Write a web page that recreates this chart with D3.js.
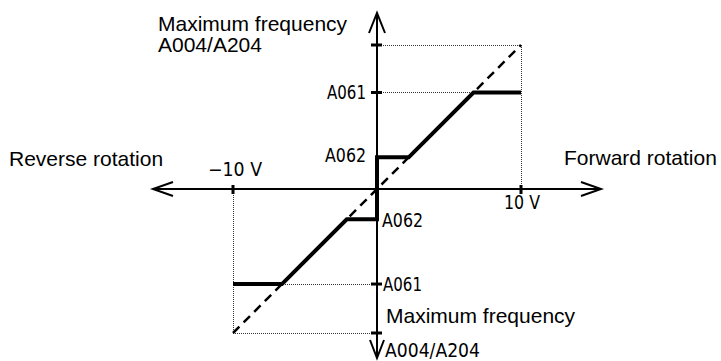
<!DOCTYPE html>
<html>
<head>
<meta charset="utf-8">
<script src="https://cdn.jsdelivr.net/npm/d3@7"></script>
<style>
  body { margin: 0; background: #fff; }
</style>
</head>
<body>
<div id="main"></div>
<script>
// analog input (V) -> output frequency (% of max frequency)
const maxVolt = 10
const maxFreq = 100
// forward side: A062 lower limit, A061 upper limit
const fwdA062 = 22
const fwdA061 = 67
// reverse side
const revA062 = -21
const revA061 = -66
// characteristic line
const curveVolt = [-10, -6.6, -2.1, 0, 0, 2.2, 6.7, 10]
const curveFreq = [-66, -66, -21, -21, 22, 22, 67, 67]
// ideal line (dashed)
const idealVolt = [-10, 10]
const idealFreq = [-100, 100]
const xTickVals = [-10, 10]
const xTickLabels = ["\u221210 V", "10 V"]
const yTickVals = [100, 67, -66, -100]

const W = 721, H = 361
const svg = d3.select("#main").append("svg").attr("width", W).attr("height", H)
  .style("font-family", "'Liberation Sans', Arial, sans-serif")

const x = d3.scaleLinear().domain([-maxVolt, maxVolt]).range([233, 521])
const y = d3.scaleLinear().domain([-maxFreq, maxFreq]).range([333, 45])
const x0 = x(0), y0 = y(0)

const line = d3.line().x(d => x(d[0])).y(d => y(d[1]))

// dotted guides
const guides = [
  [[0, maxFreq], [maxVolt, maxFreq]],
  [[maxVolt, maxFreq], [maxVolt, 0]],
  [[0, fwdA061], [maxVolt, fwdA061]],
  [[-maxVolt, 0], [-maxVolt, -maxFreq]],
  [[-maxVolt, -maxFreq], [0, -maxFreq]],
  [[-maxVolt, revA061], [0, revA061]]
]
svg.append("g").selectAll("path").data(guides).enter().append("path")
  .attr("d", line)
  .attr("fill", "none")
  .attr("stroke", "#333")
  .attr("stroke-width", 1)
  .attr("stroke-dasharray", "1,1")
  .attr("shape-rendering", "crispEdges")

// dashed ideal line
svg.append("path")
  .datum(idealVolt.map((v, i) => [v, idealFreq[i]]))
  .attr("d", line)
  .attr("fill", "none")
  .attr("stroke", "#000")
  .attr("stroke-width", 2.5)
  .attr("stroke-dasharray", "9,6")

// axes with open arrowheads
const ax = svg.append("g").attr("stroke", "#000").attr("stroke-width", 2).attr("fill", "none")
ax.append("line").attr("x1", 153).attr("x2", 601).attr("y1", y0).attr("y2", y0)
ax.append("line").attr("x1", x0).attr("x2", x0).attr("y1", 13).attr("y2", 358)
ax.append("path").attr("d", `M${153 + 20},${y0 - 7}L153,${y0}L${153 + 20},${y0 + 7}`)
ax.append("path").attr("d", `M${601 - 20},${y0 - 7}L601,${y0}L${601 - 20},${y0 + 7}`)
ax.append("path").attr("d", `M${x0 - 8},33L${x0},13L${x0 + 8},33`)
ax.append("path").attr("d", `M${x0 - 7},340L${x0},358L${x0 + 7},340`)

// characteristic
svg.append("path")
  .datum(curveVolt.map((v, i) => [v, curveFreq[i]]))
  .attr("d", line)
  .attr("fill", "none")
  .attr("stroke", "#000")
  .attr("stroke-width", 4)

// ticks
svg.append("g").selectAll("line").data(yTickVals).enter().append("line")
  .attr("x1", x0 - 6).attr("x2", x0 + 5)
  .attr("y1", d => y(d)).attr("y2", d => y(d))
  .attr("stroke", "#000").attr("stroke-width", 3)
svg.append("g").selectAll("line").data(xTickVals).enter().append("line")
  .attr("x1", d => x(d)).attr("x2", d => x(d))
  .attr("y1", y0 - 4).attr("y2", y0 + 5)
  .attr("stroke", "#000").attr("stroke-width", 3)

// narrow tick labels
const narrow = "'DejaVu Sans Condensed', 'DejaVu Sans', sans-serif"
function nlabel(txt, px, py, len, anchor) {
  svg.append("text").text(txt)
    .attr("x", px).attr("y", py)
    .attr("text-anchor", anchor)
    .attr("font-family", narrow)
    .attr("font-size", 19)
    .attr("textLength", len)
    .attr("lengthAdjust", "spacingAndGlyphs")
    .attr("fill", "#000")
}
nlabel("A061", x0 - 11, y(fwdA061) + 6, 39, "end")
nlabel("A062", x0 - 11, y(fwdA062) + 5, 41, "end")
nlabel("A062", x0 + 5, y(revA062) + 8, 41, "start")
nlabel("A061", x0 + 6, y(revA061) + 7, 39, "start")
nlabel(xTickLabels[0], x(xTickVals[0]) + 2, y0 - 13, 54, "middle")
nlabel(xTickLabels[1], x(xTickVals[1]) + 1, y0 + 20, 36, "middle")
nlabel("A004/A204", x0 + 8, 357, 95, "start")

// titles
function title(txt, px, py, anchor) {
  svg.append("text").text(txt)
    .attr("x", px).attr("y", py)
    .attr("text-anchor", anchor || "start")
    .attr("font-size", 21)
    .attr("fill", "#000")
}
title("Maximum frequency", 158, 31)
title("A004/A204", 158, 52)
title("Reverse rotation", 9, 166)
title("Forward rotation", 564, 165)
title("Maximum frequency", 386, 323)
</script>
</body>
</html>
